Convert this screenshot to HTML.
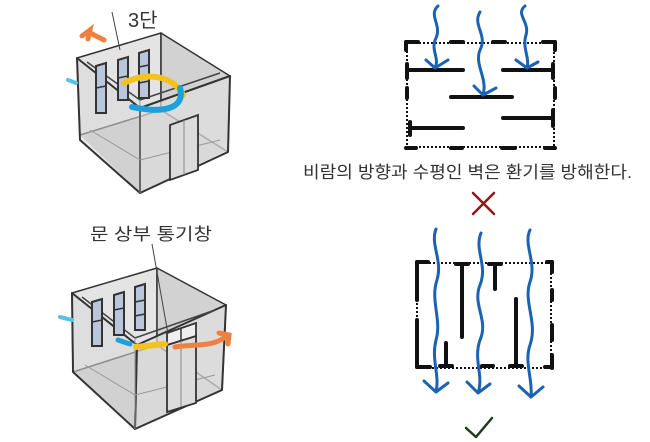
<!DOCTYPE html>
<html><head><meta charset="utf-8"><style>
html,body{margin:0;padding:0;background:#fff;}
svg{display:block;}
text{font-family:"Liberation Sans","Noto Sans CJK KR",sans-serif;}
</style></head><body>
<svg width="650" height="442" viewBox="0 0 650 442" xmlns="http://www.w3.org/2000/svg">

<!-- ===== TOP CUBE ===== -->
<g stroke="#333" stroke-width="1.5" stroke-linejoin="round">
  <polygon points="80,135 160,110 228,150 140,193" fill="#c8c8c8" stroke="none"/>
  <polygon points="77,58 161,33 161,110 80,135" fill="#e4e4e4"/>
  <polygon points="161,33 230,76 228,152 161,110" fill="#d2d2d2"/>
  <polygon points="77,58 140,108 140,193 80,140" fill="#d8d8d8" fill-opacity="0.55" stroke-width="2"/>
  <polygon points="140,108 230,76 228,152 140,193" fill="#e0e0e0" fill-opacity="0.7" stroke-width="2"/>
  <line x1="87" y1="62" x2="140" y2="100" stroke="#444"/>
  <line x1="140" y1="100" x2="220" y2="73" stroke="#444"/>
  <line x1="140" y1="100" x2="140" y2="193" stroke="#999" stroke-width="1"/>
  <line x1="90" y1="130" x2="140" y2="160" stroke="#999" stroke-width="1"/>
  <line x1="140" y1="160" x2="220" y2="140" stroke="#999" stroke-width="1"/>
</g>
<g fill="#b9c6dc" stroke="#333" stroke-width="2">
  <polygon points="96,66 106,63 106,113 96,113"/>
  <polygon points="118,60 128,57 128,100 118,100"/>
  <polygon points="139,53 149,50 149,98 139,98"/>
</g>
<g stroke="#333" stroke-width="1.5">
  <line x1="96" y1="88" x2="106" y2="86"/>
  <line x1="118" y1="78" x2="128" y2="76"/>
  <line x1="139" y1="67" x2="149" y2="65"/>
  <line x1="139" y1="83" x2="149" y2="81"/>
</g>
<polygon points="170,125 198,115 198,170 170,180" fill="#dcdcdc" stroke="#333" stroke-width="1.8"/>
<line x1="184" y1="120" x2="184" y2="175" stroke="#888" stroke-width="1"/>
<path d="M124,83 C150,70 175,78 183,95" stroke="#f4c220" stroke-width="6" fill="none" stroke-linecap="round"/>
<path d="M180,88 C185,105 170,115 132,107" stroke="#1da0dc" stroke-width="6" fill="none" stroke-linecap="round"/>
<path d="M104,40 L88,32 M82,36 L90,30 L88,39" stroke="#f08040" stroke-width="5" fill="none" stroke-linecap="round"/>
<path d="M68,80 L76,83" stroke="#5bc0e8" stroke-width="4" stroke-linecap="round"/>
<line x1="112" y1="12" x2="120" y2="50" stroke="#444" stroke-width="1"/>
<text x="128" y="27" font-size="20" fill="#333">3단</text>

<!-- ===== BOTTOM CUBE ===== -->
<g stroke="#333" stroke-width="1.5" stroke-linejoin="round">
  <polygon points="73,372 157,345 222,390 135,429" fill="#c8c8c8" stroke="none"/>
  <polygon points="72,293 157,268 157,345 73,372" fill="#e4e4e4"/>
  <polygon points="157,268 226,305 222,390 157,345" fill="#d2d2d2"/>
  <polygon points="72,293 137,345 135,429 73,372" fill="#d8d8d8" fill-opacity="0.55" stroke-width="2"/>
  <polygon points="137,345 226,305 222,390 135,429" fill="#e0e0e0" fill-opacity="0.7" stroke-width="2"/>
  <line x1="82" y1="297" x2="135" y2="338" stroke="#444"/>
  <line x1="135" y1="338" x2="215" y2="310" stroke="#444"/>
  <line x1="135" y1="338" x2="135" y2="429" stroke="#999" stroke-width="1"/>
  <line x1="85" y1="365" x2="135" y2="395" stroke="#999" stroke-width="1"/>
  <line x1="135" y1="395" x2="215" y2="375" stroke="#999" stroke-width="1"/>
</g>
<g fill="#b9c6dc" stroke="#333" stroke-width="2">
  <polygon points="92,302 102,299 102,346 92,346"/>
  <polygon points="114,295 124,292 124,335 114,335"/>
  <polygon points="135,287 145,284 145,330 135,330"/>
</g>
<g stroke="#333" stroke-width="1.5">
  <line x1="92" y1="322" x2="102" y2="320"/>
  <line x1="114" y1="310" x2="124" y2="308"/>
  <line x1="135" y1="302" x2="145" y2="300"/>
  <line x1="135" y1="316" x2="145" y2="314"/>
</g>
<polygon points="167,345 196,336 196,403 167,412" fill="#dcdcdc" stroke="#333" stroke-width="1.8"/>
<polygon points="167,333 196,323 196,336 167,345" fill="#eee" stroke="#333" stroke-width="1.8"/>
<line x1="181" y1="329" x2="181" y2="341" stroke="#333" stroke-width="1.5"/>
<line x1="181" y1="341" x2="181" y2="407" stroke="#888" stroke-width="1"/>
<path d="M118,340 L130,344" stroke="#1da0dc" stroke-width="5" stroke-linecap="round"/>
<path d="M60,317 L72,320" stroke="#5bc0e8" stroke-width="4" stroke-linecap="round"/>
<path d="M136,347 L165,344" stroke="#f4c220" stroke-width="6" stroke-linecap="round"/>
<path d="M175,347 C195,344 215,347 226,336 M219,333 L229,335 L228,344" stroke="#f08040" stroke-width="5" fill="none" stroke-linecap="round"/>
<line x1="152" y1="244" x2="168" y2="334" stroke="#444" stroke-width="1"/>
<text x="90" y="240" font-size="17" fill="#333" textLength="122" lengthAdjust="spacingAndGlyphs">문 상부 통기창</text>

<!-- ===== TOP RIGHT PLAN ===== -->
<rect x="407" y="43" width="147" height="104" fill="none" stroke="#111" stroke-width="2" stroke-dasharray="2,2"/>
<g stroke="#111" stroke-width="4" stroke-linecap="round">
  <line x1="406" y1="42" x2="418" y2="42"/><line x1="451" y1="42" x2="463" y2="42"/><line x1="493" y1="42" x2="505" y2="42"/><line x1="543" y1="42" x2="555" y2="42"/>
  <line x1="406" y1="42" x2="406" y2="50"/><line x1="555" y1="42" x2="555" y2="50"/>
  <line x1="406" y1="148" x2="416" y2="148"/><line x1="451" y1="148" x2="462" y2="148"/><line x1="502" y1="148" x2="515" y2="148"/><line x1="545" y1="148" x2="555" y2="148"/>
  <line x1="407" y1="70" x2="463" y2="70"/><line x1="407" y1="64" x2="407" y2="78"/>
  <line x1="503" y1="70" x2="553" y2="70"/><line x1="553" y1="64" x2="553" y2="78"/>
  <line x1="451" y1="97" x2="512" y2="97"/>
  <line x1="503" y1="118" x2="553" y2="118"/><line x1="553" y1="110" x2="553" y2="126"/>
  <line x1="410" y1="128" x2="463" y2="128"/><line x1="410" y1="122" x2="410" y2="135"/>
  <line x1="407" y1="88" x2="407" y2="98"/><line x1="555" y1="88" x2="555" y2="98"/>
</g>
<g stroke="#1a63b4" stroke-width="3" fill="none" stroke-linecap="round" stroke-linejoin="round">
  <path d="M438,6 C428,15 442,25 436,38 C430,50 440,58 435,68"/>
  <path d="M426,60 L435,68 L448,60"/>
  <path d="M480,12 C472,25 488,35 480,50 C474,65 488,78 483,95"/>
  <path d="M474,86 L483,95 L496,88"/>
  <path d="M525,6 C515,14 530,22 526,35 C522,48 530,58 527,68"/>
  <path d="M516,60 L527,68 L538,62"/>
</g>
<text x="303" y="178" font-size="17" fill="#333" textLength="329" lengthAdjust="spacingAndGlyphs">비람의 방향과 수평인 벽은 환기를 방해한다.</text>
<path d="M473,193 L494,214 M494,193 L473,214" stroke="#8b1a1a" stroke-width="2.5" stroke-linecap="round"/>

<!-- ===== BOTTOM RIGHT PLAN ===== -->
<rect x="417" y="263" width="134" height="105" fill="none" stroke="#111" stroke-width="2" stroke-dasharray="2,2"/>
<g stroke="#111" stroke-width="4" stroke-linecap="round">
  <line x1="417" y1="262" x2="428" y2="262"/><line x1="547" y1="262" x2="552" y2="262"/>
  <line x1="417" y1="262" x2="417" y2="300"/><line x1="417" y1="320" x2="417" y2="367"/>
  <line x1="552" y1="262" x2="552" y2="272"/><line x1="552" y1="290" x2="552" y2="300"/><line x1="552" y1="325" x2="552" y2="340"/><line x1="552" y1="355" x2="552" y2="368"/>
  <line x1="417" y1="367" x2="430" y2="367"/><line x1="545" y1="367" x2="552" y2="367"/>
  <line x1="456" y1="264" x2="468" y2="264"/><line x1="462" y1="264" x2="462" y2="337"/>
  <line x1="489" y1="264" x2="501" y2="264"/><line x1="495" y1="264" x2="495" y2="289"/>
  <line x1="516" y1="299" x2="516" y2="365"/><line x1="510" y1="366" x2="522" y2="366"/>
  <line x1="446" y1="343" x2="446" y2="366"/><line x1="440" y1="366" x2="452" y2="366"/>
  <line x1="482" y1="366" x2="493" y2="366"/>
</g>
<g stroke="#1a63b4" stroke-width="3" fill="none" stroke-linecap="round" stroke-linejoin="round">
  <path d="M436,229 C430,245 443,260 437,280 C430,300 442,320 436,340 C431,360 440,375 436,392"/>
  <path d="M424,381 L436,392 L448,383"/>
  <path d="M481,233 C474,250 488,265 480,285 C472,305 489,320 480,340 C473,360 484,375 478,393"/>
  <path d="M467,382 L478,393 L490,384"/>
  <path d="M530,230 C523,245 537,262 530,282 C523,302 538,322 530,345 C524,362 533,380 531,397"/>
  <path d="M519,386 L531,397 L543,387"/>
</g>
<path d="M466,428 L476,437 L492,418" stroke="#1c3d1c" stroke-width="2.5" fill="none" stroke-linecap="round" stroke-linejoin="round"/>
</svg>
</body></html>
